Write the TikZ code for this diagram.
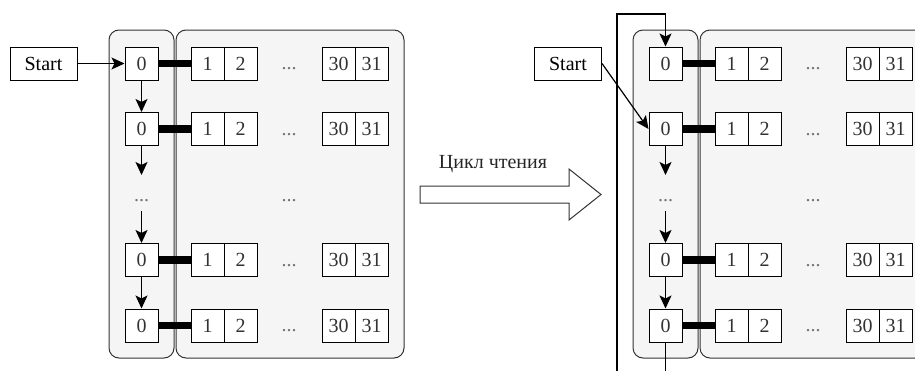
\documentclass[tikz,border=0pt]{standalone}
\usepackage{fontspec}
\setmainfont{Liberation Serif}
\usetikzlibrary{arrows.meta}
\definecolor{lanegray}{HTML}{F5F5F5}
\begin{document}
\begin{tikzpicture}[x=1pt,y=-1pt,font=\fontsize{20}{24}\selectfont,
  cell/.style={draw=black,fill=white,line width=1pt,minimum width=33pt,minimum height=33pt,inner sep=0pt,text=black!80},
  startbox/.style={cell,minimum width=67pt,text=black},
  lane/.style={draw=black!80,fill=lanegray,line width=1pt,rounded corners=10pt},
  bar/.style={line width=7.5pt},
  flow/.style={line width=1.2pt,-{Stealth[length=13pt,width=12pt,inset=3pt]}},
  dots/.style={text=black!55,inner sep=1pt}]
\clip (0,0) rectangle (915,370);
% two copies: before and after the read cycle
\foreach \s/\dx in {L/0,R/524}{
  \draw[lane] (109+\dx,30) rectangle (174+\dx,358);
  \draw[lane] (176+\dx,30) rectangle (404+\dx,358);
  \foreach \r/\y in {1/63.5,2/129,3/260,4/325.5}{
    \node[cell] (\s-\r-0) at (141.5+\dx,\y) {0};
    \node[cell] (\s-\r-1) at (207.5+\dx,\y) {1};
    \node[cell] (\s-\r-2) at (240.5+\dx,\y) {2};
    \node[dots] (\s-\r-d) at (289+\dx,\y+5.5) {...};
    \node[cell] (\s-\r-30) at (338.5+\dx,\y) {30};
    \node[cell] (\s-\r-31) at (371.5+\dx,\y) {31};
    \draw[bar] (\s-\r-0.east) -- (\s-\r-1.west);
  }
  \node[dots] (\s-gap-0) at (141.5+\dx,201) {...};
  \node[dots] (\s-gap-m) at (289+\dx,201) {...};
  \coordinate (\s-cut) at (141.5+\dx,175);
  \coordinate (\s-resume) at (141.5+\dx,211);
  \draw[flow] (\s-2-0.south) -- (\s-cut);
  \draw[flow] (\s-resume) -- (\s-3-0.north);
  \draw[flow] (\s-3-0.south) -- (\s-4-0.north);
}
% left: start enters the first row
\node[startbox] (L-start) at (43.5,63.5) {Start};
\draw[flow] (L-start.east) -- (L-1-0.west);
\draw[flow] (L-1-0.south) -- (L-2-0.north);
% big arrow
\draw[draw=black!80,fill=white,line width=1pt] (420,186) -- (569,186) -- (569,169) -- (601,194.5)
  -- (569,220) -- (569,203) -- (420,203) -- cycle;
\node[anchor=base,text=black!85] (cycle) at (493,168) {Цикл чтения};
% right: start enters the second row, last row loops back to the first
\node[startbox] (R-start) at (568,63.5) {Start};
\draw[flow] (R-start.east) -- (R-2-0.west);
\coordinate (R-loopbot) at (665.5,380);
\coordinate (R-looptop) at (617,14);
\draw[flow] (R-4-0.south) -- (R-loopbot) -| (R-looptop) -| (R-1-0.north);
\end{tikzpicture}
\end{document}
